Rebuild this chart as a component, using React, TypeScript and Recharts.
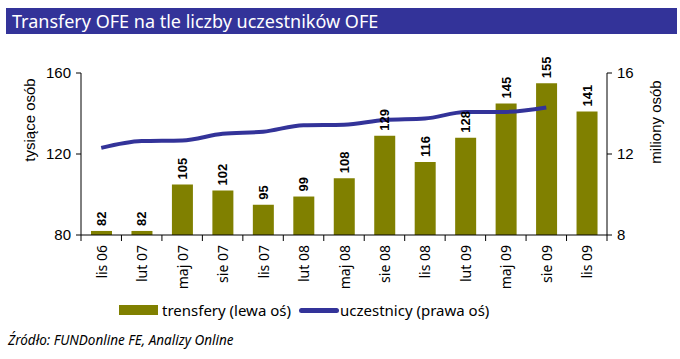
import React from 'react';
import {
  ComposedChart,
  Bar,
  Line,
  XAxis,
  YAxis,
  LabelList,
  Label,
} from 'recharts';

// okresy (kwartały)
const months = ['lis 06', 'lut 07', 'maj 07', 'sie 07', 'lis 07', 'lut 08', 'maj 08', 'sie 08', 'lis 08', 'lut 09', 'maj 09', 'sie 09', 'lis 09'];
// transfery, tys. osób (lewa oś)
const transfers = [82, 82, 105, 102, 95, 99, 108, 129, 116, 128, 145, 155, 141];
// uczestnicy, mln osób (prawa oś)
const members: (number | null)[] = [12.3, 12.64, 12.67, 13.0, 13.1, 13.42, 13.45, 13.68, 13.75, 14.07, 14.08, 14.3, null];

const leftTicks = [80, 120, 160];
const rightTicks = [8, 12, 16];

const OLIVE = '#808000';
const NAVY = '#333399';
const AXIS_FONT = '"Liberation Sans", Arial, sans-serif';
const TEXT_FONT = '"Noto Sans", "Open Sans", sans-serif';

const data = months.map((m, i) => ({
  month: m,
  transfery: transfers[i],
  uczestnicy: members[i],
}));

const WIDTH = 680;
const HEIGHT = 359;
const PLOT_LEFT = 81;
const PLOT_RIGHT = 607;
const HALF_BAND = (PLOT_RIGHT - PLOT_LEFT) / months.length / 2;

// tick + rotated label; ticks sit between categories
const MonthTick = (props: any) => {
  const { x, y, payload, index } = props;
  const axisY = y - 10;
  const isLast = index === months.length - 1;
  return (
    <g>
      <line x1={x - HALF_BAND} y1={axisY} x2={x - HALF_BAND} y2={axisY + 6} stroke="#000" strokeWidth={1} />
      {isLast && (
        <line x1={x + HALF_BAND} y1={axisY} x2={x + HALF_BAND} y2={axisY + 6} stroke="#000" strokeWidth={1} />
      )}
      <text
        x={x}
        y={y}
        transform={`rotate(-90 ${x} ${y})`}
        textAnchor="end"
        dominantBaseline="central"
        fontFamily={TEXT_FONT}
        fontSize={14}
        fill="#000"
      >
        {payload.value}
      </text>
    </g>
  );
};

const BarValue = (props: any) => {
  const { x, y, width, value } = props;
  const cx = x + width / 2;
  const cy = y - 5;
  return (
    <text
      x={cx}
      y={cy}
      transform={`rotate(-90 ${cx} ${cy})`}
      textAnchor="start"
      dominantBaseline="central"
      fontFamily={AXIS_FONT}
      fontSize={13}
      fontWeight="bold"
      fill="#000"
    >
      {value}
    </text>
  );
};

export default function App() {
  return (
    <div style={{ position: 'absolute', left: 0, top: 0, width: WIDTH, height: HEIGHT, background: '#fff' }}>
      <div
        style={{
          position: 'absolute',
          left: 6,
          top: 8,
          width: 671,
          height: 26,
          background: NAVY,
          color: '#fff',
          fontFamily: TEXT_FONT,
          fontSize: 18,
          lineHeight: '26px',
          paddingLeft: 6,
          boxSizing: 'border-box',
          whiteSpace: 'nowrap',
        }}
      >
        Transfery OFE na tle liczby uczestników OFE
      </div>

      <ComposedChart
        width={WIDTH}
        height={HEIGHT}
        data={data}
        margin={{ top: 73, right: 0, bottom: 62, left: 0 }}
        barCategoryGap={19}
      >
        <XAxis
          dataKey="month"
          interval={0}
          height={62}
          axisLine={{ stroke: '#000' }}
          tickLine={false}
          tickSize={6}
          tickMargin={4}
          tick={<MonthTick />}
        />
        <YAxis
          yAxisId="left"
          orientation="left"
          width={PLOT_LEFT}
          domain={[80, 160]}
          ticks={leftTicks}
          allowDataOverflow
          axisLine={{ stroke: '#000' }}
          tickLine={{ stroke: '#000' }}
          tickSize={5}
          tickMargin={5}
          tick={{ fill: '#000', fontSize: 15, fontFamily: AXIS_FONT }}
        >
          <Label
            content={({ viewBox }: any) => (
              <text
                x={viewBox.x + 29}
                y={120}
                transform={`rotate(-90 ${viewBox.x + 29} 120)`}
                textAnchor="middle"
                dominantBaseline="central"
                fontFamily={AXIS_FONT}
                fontSize={15}
                fill="#000"
              >
                tysiące osób
              </text>
            )}
          />
        </YAxis>
        <YAxis
          yAxisId="right"
          orientation="right"
          width={WIDTH - PLOT_RIGHT}
          domain={[8, 16]}
          ticks={rightTicks}
          allowDataOverflow
          axisLine={{ stroke: '#000' }}
          tickLine={{ stroke: '#000' }}
          tickSize={5}
          tickMargin={5}
          tick={{ fill: '#000', fontSize: 15, fontFamily: AXIS_FONT }}
        >
          <Label
            content={({ viewBox }: any) => (
              <text
                x={viewBox.x + 48}
                y={122}
                transform={`rotate(-90 ${viewBox.x + 48} 122)`}
                textAnchor="middle"
                dominantBaseline="central"
                fontFamily={AXIS_FONT}
                fontSize={15}
                fill="#000"
              >
                miliony osób
              </text>
            )}
          />
        </YAxis>
        <Bar yAxisId="left" dataKey="transfery" fill={OLIVE} barSize={21} isAnimationActive={false}>
          <LabelList dataKey="transfery" content={<BarValue />} />
        </Bar>
        <Line
          yAxisId="right"
          type="monotone"
          dataKey="uczestnicy"
          stroke={NAVY}
          strokeWidth={4}
          dot={false}
          activeDot={false}
          connectNulls={false}
          isAnimationActive={false}
        />
      </ComposedChart>

      {/* legenda */}
      <div
        style={{
          position: 'absolute',
          left: 119,
          top: 300,
          display: 'flex',
          alignItems: 'center',
          fontFamily: TEXT_FONT,
          fontSize: 15,
          color: '#000',
          whiteSpace: 'nowrap',
        }}
      >
        <span style={{ display: 'inline-block', width: 39, height: 10, background: OLIVE, marginRight: 4 }} />
        <span>trensfery (lewa oś)</span>
        <span style={{ display: 'inline-block', width: 40, height: 5, borderRadius: 3, background: NAVY, marginLeft: 8, marginRight: 1 }} />
        <span>uczestnicy (prawa oś)</span>
      </div>

      <div
        style={{
          position: 'absolute',
          left: 8,
          top: 331,
          fontFamily: TEXT_FONT,
          fontSize: 13.5,
          fontStyle: 'italic',
          color: '#000',
          whiteSpace: 'nowrap',
        }}
      >
        Źródło: FUNDonline FE, Analizy Online
      </div>
    </div>
  );
}
